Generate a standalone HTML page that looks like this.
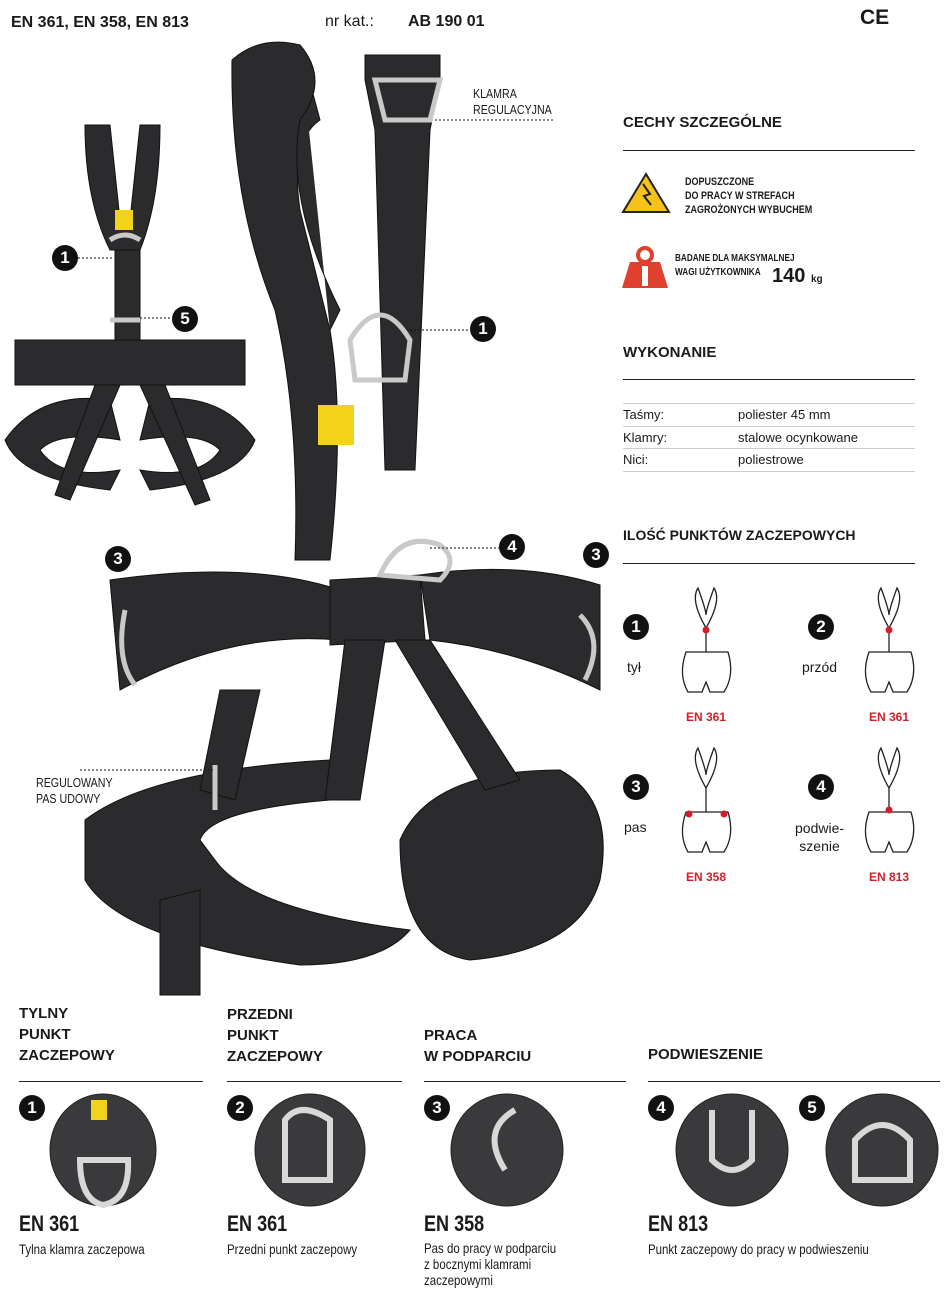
<!DOCTYPE html>
<html><head><meta charset="utf-8"><style>
body{margin:0;background:#fff;}
.w{position:relative;width:947px;height:1292px;overflow:hidden;font-family:"Liberation Sans",sans-serif;color:#1a1a1a}
.a{position:absolute;white-space:nowrap}
.b{font-weight:bold}
.hl{position:absolute;height:1px;background:#222}
.gl{position:absolute;height:1px;background:#ccc}
.n{position:absolute;width:26px;height:26px;border-radius:50%;background:#111;color:#fff;font-weight:bold;font-size:17px;text-align:center;line-height:26px}
.c{transform:scaleX(0.82);transform-origin:0 0}
</style></head><body><div class="w">
<div class="a b" style="left:11px;top:14px;font-size:16px">EN 361, EN 358, EN 813</div>
<div class="a" style="left:325px;top:13px;font-size:16px">nr kat.:</div>
<div class="a b" style="left:408px;top:13px;font-size:16px">AB 190 01</div>
<div class="a b" style="left:860px;top:6px;font-size:21px">CE</div>

<svg style="position:absolute;left:0;top:0" width="947" height="1292">
<g fill="#2b2b2d" stroke="#111" stroke-width="1">
<path d="M232 60 Q260 35 300 45 L320 120 Q290 140 300 210 L330 330 Q345 420 330 560 L295 560 Q300 420 275 310 Q230 200 232 60Z"/>
<path d="M300 45 Q330 80 300 120 Q285 200 340 310 L330 330"/>
<path d="M365 55 L440 55 L440 80 L430 130 L415 470 L385 470 L375 130 L365 80Z"/>
<path d="M110 580 Q250 560 340 590 L340 640 Q230 630 120 690Z"/>
<path d="M420 575 Q520 560 600 585 L600 690 Q520 650 430 640Z"/>
<path d="M330 580 L420 575 L425 640 L330 645Z"/>
<path d="M85 820 Q150 770 330 760 L330 800 Q210 810 200 840 L215 860 Q250 910 410 930 Q380 965 300 965 Q120 940 85 880Z"/>
<path d="M400 840 Q430 770 560 770 Q615 800 600 880 Q580 950 470 960 Q400 950 400 840Z"/>
<path d="M345 640 L385 640 L360 800 L325 800Z" />
<path d="M395 640 L430 640 L520 780 L485 790Z"/>
<path d="M220 690 L260 690 L235 800 L200 790Z"/>
<path d="M160 900 L200 890 L200 995 L160 995Z"/>
<path d="M85 125 L110 125 L120 220 L130 220 L140 125 L160 125 Q160 200 140 250 L110 250 Q85 200 85 125Z"/>
<path d="M115 250 L140 250 L140 350 L115 350Z"/>
<path d="M15 340 L245 340 L245 385 L15 385Z"/>
<path d="M5 440 Q40 390 110 400 L120 440 Q60 430 40 450 Q60 480 120 470 L110 490 Q20 480 5 440Z"/>
<path d="M255 440 Q220 390 150 400 L140 440 Q200 430 220 450 Q200 480 140 470 L150 490 Q240 480 255 440Z"/>
<path d="M95 385 L120 385 L70 500 L55 495Z"/>
<path d="M140 385 L165 385 L210 500 L195 505Z"/>
</g>
<g fill="none" stroke="#c9c9c9" stroke-width="5">
<path d="M375 80 L440 80 L430 120 L385 120Z"/>
<path d="M350 340 Q380 290 410 340 L405 380 L355 380Z"/>
<path d="M380 575 Q400 530 440 545 Q460 560 440 580Z"/>
<path d="M125 610 Q115 660 135 685"/>
<path d="M580 615 Q605 640 585 680"/>
<path d="M215 765 L215 810"/>
<path d="M110 240 Q125 230 140 240"/>
<path d="M110 320 L140 320"/>
</g>
<rect x="318" y="405" width="36" height="40" fill="#f2d21b"/>
<rect x="115" y="210" width="18" height="20" fill="#f2d21b"/>
<g stroke="#111" stroke-width="1" fill="none" stroke-dasharray="2,2">
<line x1="435" y1="120" x2="553" y2="120"/>
<line x1="410" y1="330" x2="470" y2="330"/>
<line x1="80" y1="770" x2="213" y2="770"/>
<line x1="78" y1="258" x2="112" y2="258"/>
<line x1="140" y1="318" x2="172" y2="318"/>
<line x1="430" y1="548" x2="500" y2="548"/>
</g>
<polygon points="646,174 669,212 623,212" fill="#f4c21a" stroke="#222" stroke-width="2"/>
<path d="M643 184 L650 194 L644 196 L651 205" fill="none" stroke="#222" stroke-width="2"/>
<polygon points="630,262 660,262 668,288 622,288" fill="#e0402e"/>
<circle cx="645" cy="255" r="7" fill="none" stroke="#e0402e" stroke-width="4"/>
<rect x="642" y="266" width="6" height="20" fill="#fff"/>
<g fill="none" stroke="#222" stroke-width="1.3">
<g id="ic"><path d="M698 588 Q690 600 706 628 Q722 600 714 588 Q706 610 706 615 Q706 610 698 588Z"/>
<line x1="706" y1="628" x2="706" y2="652"/>
<path d="M686 652 L728 652 Q735 675 724 692 L710 692 L706 682 L702 692 L688 692 Q678 675 686 652Z"/></g>
<use href="#ic" x="183"/><use href="#ic" y="160"/><use href="#ic" x="183" y="160"/>
</g>
<g fill="#d21e2b"><circle cx="706" cy="630" r="3.5"/><circle cx="889" cy="630" r="3.5"/><circle cx="689" cy="814" r="3.5"/><circle cx="724" cy="814" r="3.5"/><circle cx="889" cy="810" r="3.5"/></g>
<g fill="#3a3a3c" stroke="#222"><ellipse cx="103" cy="1150" rx="53" ry="56"/><ellipse cx="310" cy="1150" rx="55" ry="56"/><ellipse cx="507" cy="1150" rx="56" ry="56"/><ellipse cx="732" cy="1150" rx="56" ry="56"/><ellipse cx="882" cy="1150" rx="56" ry="56"/></g>
<g fill="none" stroke="#d8d8d8" stroke-width="6"><path d="M80 1160 Q80 1200 103 1205 Q130 1200 128 1160Z"/><path d="M285 1120 Q300 1100 330 1120 L330 1180 L285 1180Z"/><path d="M515 1110 Q480 1130 505 1170"/><path d="M712 1110 L712 1160 Q732 1180 752 1160 L752 1110"/><path d="M855 1140 Q882 1110 910 1140 L910 1180 L855 1180Z"/></g>
<rect x="91" y="1100" width="16" height="20" fill="#f2d21b"/>
</svg>

<div class="n" style="left:52px;top:245px">1</div>
<div class="n" style="left:172px;top:306px">5</div>
<div class="n" style="left:470px;top:316px">1</div>
<div class="n" style="left:499px;top:534px">4</div>
<div class="n" style="left:105px;top:546px">3</div>
<div class="n" style="left:583px;top:542px">3</div>
<div class="a c" style="left:473px;top:86px;font-size:13px;line-height:16px">KLAMRA<br>REGULACYJNA</div>
<div class="a c" style="left:36px;top:775px;font-size:13px;line-height:16px">REGULOWANY<br>PAS UDOWY</div>

<div class="a b" style="left:623px;top:114px;font-size:15px">CECHY SZCZEGÓLNE</div>
<div class="hl" style="left:623px;top:150px;width:292px"></div>
<div class="a c b" style="left:685px;top:175px;font-size:11px;line-height:14px">DOPUSZCZONE<br>DO PRACY W STREFACH<br>ZAGROŻONYCH WYBUCHEM</div>
<div class="a c b" style="left:675px;top:252px;font-size:10px;line-height:14px">BADANE DLA MAKSYMALNEJ<br>WAGI UŻYTKOWNIKA</div>
<div class="a b" style="left:772px;top:265px;font-size:20px">140 <span style="font-size:10px">kg</span></div>
<div class="a b" style="left:623px;top:344px;font-size:15px">WYKONANIE</div>
<div class="hl" style="left:623px;top:379px;width:292px"></div>
<div class="gl" style="left:623px;top:403px;width:292px"></div>
<div class="gl" style="left:623px;top:426px;width:292px"></div>
<div class="gl" style="left:623px;top:448px;width:292px"></div>
<div class="gl" style="left:623px;top:471px;width:292px"></div>
<div class="a" style="left:623px;top:407px;font-size:13px">Taśmy:</div><div class="a" style="left:738px;top:407px;font-size:13px">poliester 45 mm</div>
<div class="a" style="left:623px;top:430px;font-size:13px">Klamry:</div><div class="a" style="left:738px;top:430px;font-size:13px">stalowe ocynkowane</div>
<div class="a" style="left:623px;top:452px;font-size:13px">Nici:</div><div class="a" style="left:738px;top:452px;font-size:13px">poliestrowe</div>
<div class="a b" style="left:623px;top:527px;font-size:14px">ILOŚĆ PUNKTÓW ZACZEPOWYCH</div>
<div class="hl" style="left:623px;top:563px;width:292px"></div>
<div class="n" style="left:623px;top:614px">1</div><div class="n" style="left:808px;top:614px">2</div>
<div class="n" style="left:623px;top:774px">3</div><div class="n" style="left:808px;top:774px">4</div>
<div class="a" style="left:627px;top:659px;font-size:14px">tył</div>
<div class="a" style="left:802px;top:659px;font-size:14px">przód</div>
<div class="a" style="left:624px;top:819px;font-size:14px">pas</div>
<div class="a" style="left:795px;top:819px;font-size:14px;line-height:18px;text-align:center">podwie-<br>szenie</div>
<div class="a b" style="left:686px;top:710px;font-size:12px;color:#d21e2b">EN 361</div>
<div class="a b" style="left:869px;top:710px;font-size:12px;color:#d21e2b">EN 361</div>
<div class="a b" style="left:686px;top:870px;font-size:12px;color:#d21e2b">EN 358</div>
<div class="a b" style="left:869px;top:870px;font-size:12px;color:#d21e2b">EN 813</div>

<div class="a b" style="left:19px;top:1003px;font-size:15px;line-height:21px">TYLNY<br>PUNKT<br>ZACZEPOWY</div>
<div class="a b" style="left:227px;top:1004px;font-size:15px;line-height:21px">PRZEDNI<br>PUNKT<br>ZACZEPOWY</div>
<div class="a b" style="left:424px;top:1025px;font-size:15px;line-height:21px">PRACA<br>W PODPARCIU</div>
<div class="a b" style="left:648px;top:1046px;font-size:15px">PODWIESZENIE</div>
<div class="hl" style="left:19px;top:1081px;width:184px"></div>
<div class="hl" style="left:227px;top:1081px;width:175px"></div>
<div class="hl" style="left:424px;top:1081px;width:202px"></div>
<div class="hl" style="left:648px;top:1081px;width:292px"></div>
<div class="n" style="left:19px;top:1095px">1</div><div class="n" style="left:227px;top:1095px">2</div><div class="n" style="left:424px;top:1095px">3</div><div class="n" style="left:648px;top:1095px">4</div><div class="n" style="left:799px;top:1095px">5</div>
<div class="a b c" style="left:19px;top:1211px;font-size:22px">EN 361</div>
<div class="a b c" style="left:227px;top:1211px;font-size:22px">EN 361</div>
<div class="a b c" style="left:424px;top:1211px;font-size:22px">EN 358</div>
<div class="a b c" style="left:648px;top:1211px;font-size:22px">EN 813</div>
<div class="a c" style="left:19px;top:1241px;font-size:14px">Tylna klamra zaczepowa</div>
<div class="a c" style="left:227px;top:1241px;font-size:14px">Przedni punkt zaczepowy</div>
<div class="a c" style="left:424px;top:1240px;font-size:14px;line-height:16px">Pas do pracy w podparciu<br>z bocznymi klamrami<br>zaczepowymi</div>
<div class="a c" style="left:648px;top:1241px;font-size:14px">Punkt zaczepowy do pracy w podwieszeniu</div>
</div></body></html>
